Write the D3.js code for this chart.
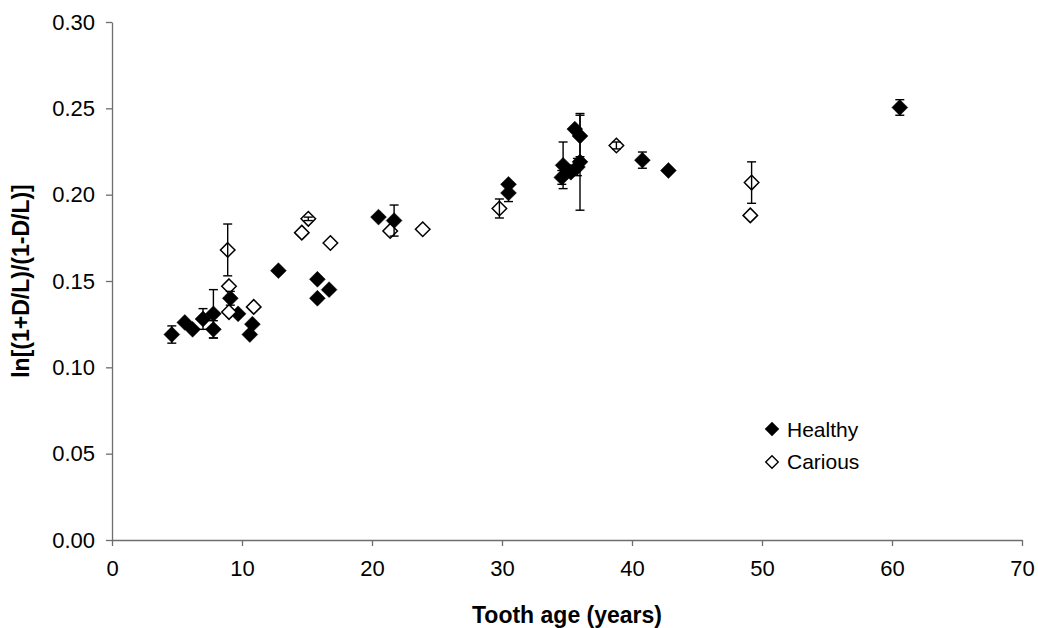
<!DOCTYPE html>
<html>
<head>
<meta charset="utf-8">
<script src="https://cdn.jsdelivr.net/npm/d3@7"></script>
<style>
  body { margin: 0; background: #fff; }
  text { font-family: "Liberation Sans", Arial, sans-serif; fill: #000; }
</style>
</head>
<body>
<script>
// healthy teeth: age, value, error (0 = no bar)
var healthyAge = [4.6, 5.6, 6.2, 7.0, 7.8, 7.8, 9.1, 9.7, 10.8, 10.6, 12.8, 15.8, 16.7, 15.8,
    20.5, 21.7, 30.5, 30.5, 34.7, 34.6, 35.3, 35.6, 36.0, 36.0, 35.8, 40.8, 42.8, 60.6];
var healthyVal = [0.119, 0.126, 0.122, 0.128, 0.131, 0.122, 0.140, 0.131, 0.125, 0.119, 0.156, 0.151, 0.145, 0.140,
    0.187, 0.185, 0.206, 0.201, 0.217, 0.210, 0.213, 0.238, 0.234, 0.219, 0.216, 0.220, 0.214, 0.2505];
var healthyErr = [0.005, 0, 0, 0.006, 0.014, 0.005, 0.004, 0, 0, 0, 0, 0, 0, 0,
    0, 0.009, 0, 0.005, 0.0135, 0.004, 0, 0, 0.012, 0.028, 0.005, 0.0047, 0, 0.0045];

// carious teeth
var cariousAge = [8.9, 9.0, 9.0, 10.9, 14.6, 15.1, 16.8, 21.4, 23.9, 29.8, 38.8, 49.2, 49.1];
var cariousVal = [0.168, 0.147, 0.132, 0.135, 0.178, 0.186, 0.172, 0.179, 0.180, 0.192, 0.2285, 0.207, 0.188];
var cariousErr = [0.015, 0, 0, 0, 0, 0.001, 0, 0, 0, 0.0055, 0.002, 0.012, 0];

var xTicks = [0, 10, 20, 30, 40, 50, 60, 70];
var yTicks = [0, 0.05, 0.10, 0.15, 0.20, 0.25, 0.30];

//Width and height
var width = 1038;
var height = 628;
var margin = {top: 22, right: 16, bottom: 88, left: 112};

var svg = d3.select("body")
    .append("svg")
    .attr("width", width)
    .attr("height", height);

var xScale = d3.scaleLinear()
    .domain([0, 70])
    .range([margin.left, width - margin.right]);

var yScale = d3.scaleLinear()
    .domain([0, 0.30])
    .range([height - margin.bottom, margin.top]);

// axes
var xAxis = d3.axisBottom(xScale)
    .tickValues(xTicks)
    .tickSizeInner(6)
    .tickSizeOuter(0)
    .tickPadding(14)
    .tickFormat(d3.format("d"));

var yAxis = d3.axisLeft(yScale)
    .tickValues(yTicks)
    .tickSizeInner(6)
    .tickSizeOuter(0)
    .tickPadding(11)
    .tickFormat(d3.format(".2f"));

var gx = svg.append("g")
    .attr("transform", "translate(0," + yScale(0) + ")")
    .call(xAxis);

var gy = svg.append("g")
    .attr("transform", "translate(" + xScale(0) + ",0)")
    .call(yAxis);

[gx, gy].forEach(function(g) {
    g.selectAll("path, line").attr("stroke", "#6e6e6e").attr("stroke-width", 1.3);
    g.selectAll("text").attr("font-size", 22).attr("font-family", "Liberation Sans, Arial, sans-serif");
});

// axis titles
svg.append("text")
    .attr("x", xScale(35))
    .attr("y", 623)
    .attr("text-anchor", "middle")
    .attr("font-size", 23)
    .attr("font-weight", "bold")
    .text("Tooth age (years)");

svg.append("text")
    .attr("transform", "translate(29," + yScale(0.15) + ") rotate(-90)")
    .attr("text-anchor", "middle")
    .attr("font-size", 23)
    .attr("font-weight", "bold")
    .text("ln[(1+D/L)/(1-D/L)]");

var diamond = d3.symbol().type(d3.symbolDiamond2);

function drawSeries(ages, vals, filled, size) {
    var pts = ages.map(function(a, i) { return [a, vals[i]]; });
    svg.append("g").selectAll("path")
        .data(pts)
        .enter()
        .append("path")
        .attr("d", diamond.size(size))
        .attr("transform", function(d) {
            return "translate(" + xScale(d[0]) + "," + yScale(d[1]) + ")";
        })
        .attr("fill", filled ? "#000" : "#fff")
        .attr("stroke", "#000")
        .attr("stroke-width", filled ? 0.5 : 1.5);
}

function drawErrors(ages, vals, errs) {
    var pts = [];
    ages.forEach(function(a, i) {
        if (errs[i] > 0) pts.push([a, vals[i], errs[i]]);
    });
    var g = svg.append("g").attr("stroke", "#000").attr("stroke-width", 1.4);
    var sel = g.selectAll("g").data(pts).enter().append("g");
    sel.append("line")
        .attr("x1", function(d) { return xScale(d[0]); })
        .attr("x2", function(d) { return xScale(d[0]); })
        .attr("y1", function(d) { return yScale(d[1] - d[2]); })
        .attr("y2", function(d) { return yScale(d[1] + d[2]); });
    [-1, 1].forEach(function(s) {
        sel.append("line")
            .attr("x1", function(d) { return xScale(d[0]) - 4.5; })
            .attr("x2", function(d) { return xScale(d[0]) + 4.5; })
            .attr("y1", function(d) { return yScale(d[1] + s * d[2]); })
            .attr("y2", function(d) { return yScale(d[1] + s * d[2]); });
    });
}

drawSeries(healthyAge, healthyVal, true, 160);
drawSeries(cariousAge, cariousVal, false, 134);
drawErrors(healthyAge, healthyVal, healthyErr);
drawErrors(cariousAge, cariousVal, cariousErr);

// legend
var legend = svg.append("g").attr("transform", "translate(772,429)");
legend.append("path")
    .attr("d", diamond.size(135))
    .attr("fill", "#000");
legend.append("text")
    .attr("x", 15).attr("y", 7.5)
    .attr("font-size", 21)
    .text("Healthy");
legend.append("path")
    .attr("d", diamond.size(100))
    .attr("transform", "translate(0,33)")
    .attr("fill", "#fff")
    .attr("stroke", "#000")
    .attr("stroke-width", 1.4);
legend.append("text")
    .attr("x", 15).attr("y", 40)
    .attr("font-size", 21)
    .text("Carious");
</script>
</body>
</html>
